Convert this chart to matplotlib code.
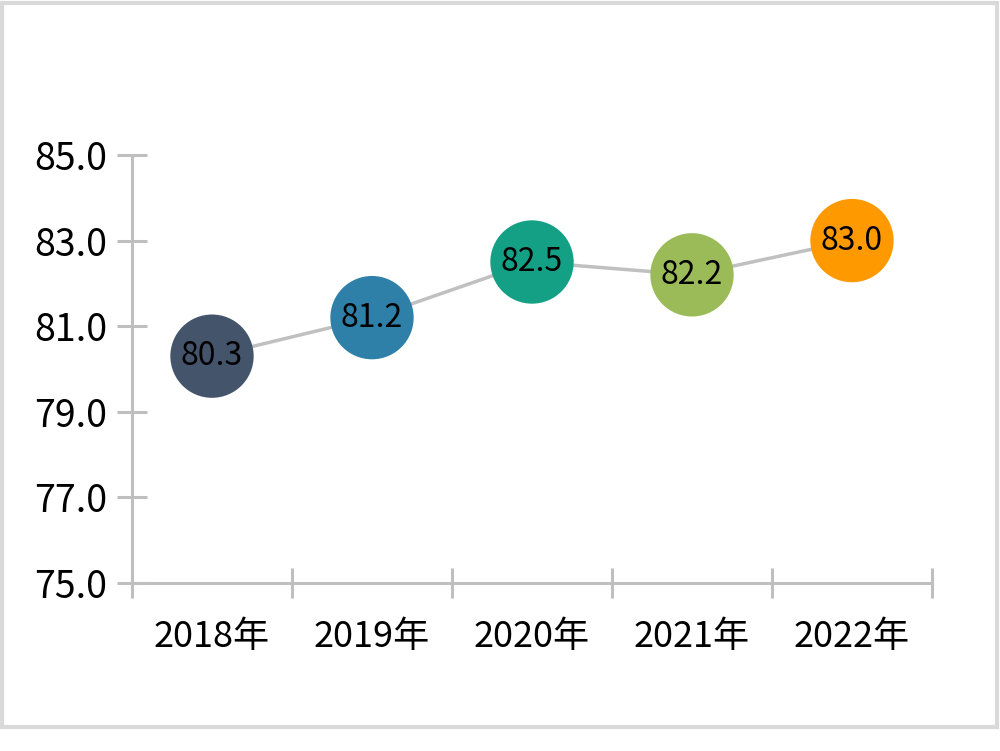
import matplotlib
matplotlib.use("Agg")
import matplotlib.pyplot as plt
from matplotlib.patches import Rectangle

plt.rcParams['font.family'] = ['Noto Sans CJK SC', 'DejaVu Sans']

years = ['2018年', '2019年', '2020年', '2021年', '2022年']
values = [80.3, 81.2, 82.5, 82.2, 83.0]
colors = ['#44546A', '#2E80A8', '#14A085', '#9BBB59', '#FF9900']
yticks = [75.0, 77.0, 79.0, 81.0, 83.0, 85.0]

fig = plt.figure(figsize=(10, 7.51), dpi=100)

# outer frame
fig.patches.append(Rectangle((0.002, 1 - 727 / 751), 0.995, 725 / 751 - 0.001,
                             transform=fig.transFigure, fill=False,
                             edgecolor='#D9D9D9', linewidth=3))

ax = fig.add_axes([0.132, 1 - 583 / 751, 0.800, (583 - 155) / 751])

x = list(range(len(years)))
ax.plot(x, values, color='#C0C0C0', linewidth=2.5, zorder=1)
ax.scatter(x, values, s=60 ** 2, c=colors, zorder=2, linewidths=0)
for xi, v in zip(x, values):
    ax.text(xi, v, f'{v:.1f}', ha='center', va='center', fontsize=23,
            color='black', zorder=3)

ax.set_xlim(-0.5, 4.5)
ax.set_ylim(75, 85)
ax.set_yticks(yticks)
ax.set_yticklabels([f'{t:.1f}' for t in yticks])
ax.set_xticks([i - 0.5 for i in range(len(years) + 1)])
ax.set_xticklabels([])
ax.set_xticks(x, minor=True)
ax.set_xticklabels(years, minor=True)

for side in ['top', 'right']:
    ax.spines[side].set_visible(False)
for side in ['left', 'bottom']:
    ax.spines[side].set_color('#BFBFBF')
    ax.spines[side].set_linewidth(2.2)

ax.tick_params(axis='y', which='major', direction='inout', length=22, width=2.2,
               color='#BFBFBF', labelsize=27, pad=7)
ax.tick_params(axis='x', which='major', direction='inout', length=22, width=2.2,
               color='#BFBFBF')
ax.tick_params(axis='x', which='minor', length=0, labelsize=26, pad=26)

fig.savefig('out.png', dpi=100)
